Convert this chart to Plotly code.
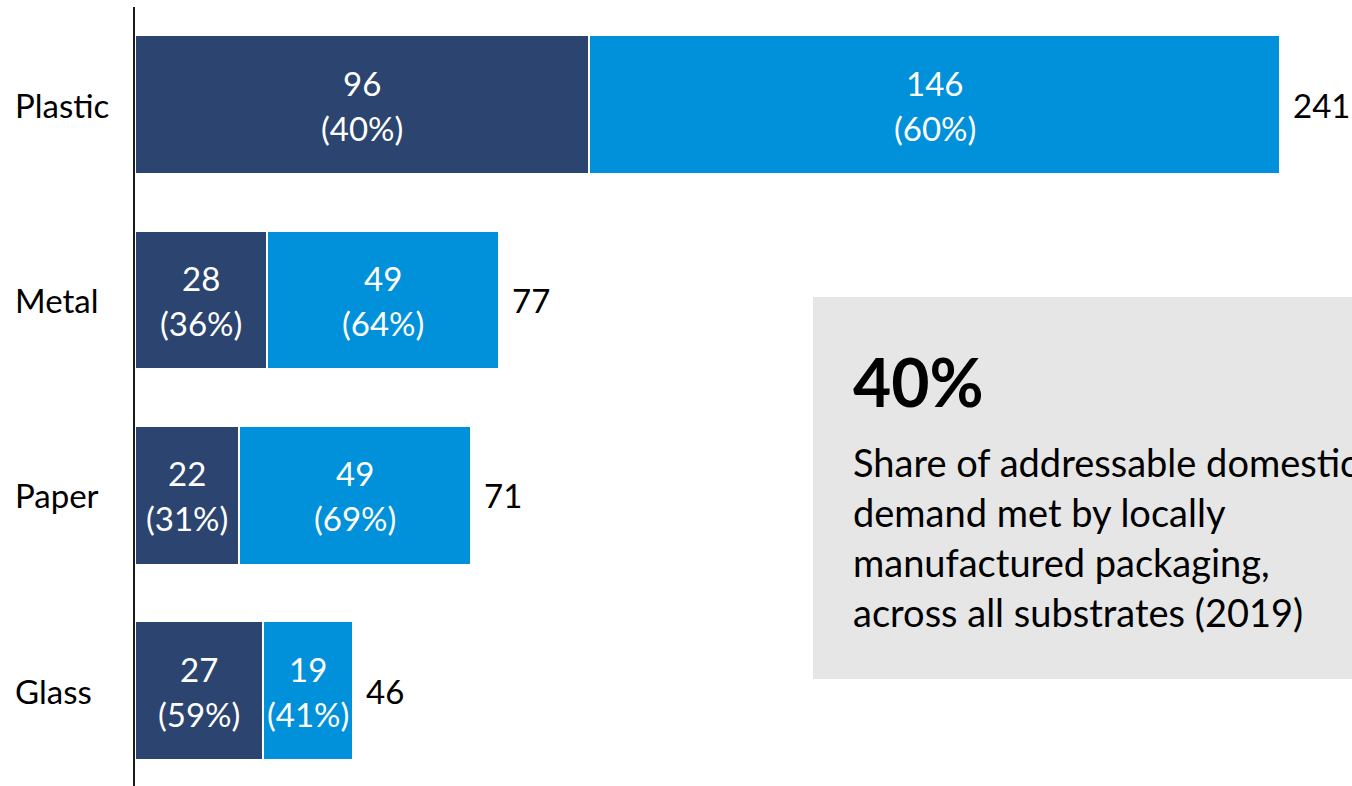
import plotly.graph_objects as go

# Packaging demand by substrate (2019)
substrates = ["Plastic", "Metal", "Paper", "Glass"]
local_values = [96, 28, 22, 27]
local_shares = [40, 36, 31, 59]
import_values = [146, 49, 49, 19]
import_shares = [60, 64, 69, 41]
totals = [241, 77, 71, 46]

headline = "40%"
note_lines = [
    "Share of addressable domestic",
    "demand met by locally",
    "manufactured packaging,",
    "across all substrates (2019)",
]

DARK = "#2c4470"
LIGHT = "#0091da"
BOX = "#e6e6e6"
FONT = "Lato"
LABEL_SIZE = 33
NOTE_SIZE = 38

W, H = 1352, 786
ML, MT, MB, MR = 135, 7, 0, 0
PW, PH = W - ML - MR, H - MT - MB
PX_PER_UNIT = 4.731
BAND = 195.3


def px_x(px):
    return (px - ML) / PW


def px_y(py):
    return (H - MB - py) / PH


fig = go.Figure()
for vals, color in ((local_values, DARK), (import_values, LIGHT)):
    fig.add_trace(go.Bar(
        y=substrates, x=vals, orientation="h",
        marker=dict(color=color, line=dict(color="white", width=2)),
        width=0.71, hoverinfo="skip", showlegend=False,
    ))

ann = []
for i, name in enumerate(substrates):
    # category label, left aligned
    ann.append(dict(x=px_x(13), xref="paper", y=name, yref="y", text=name,
                    xanchor="left", yanchor="middle", showarrow=False,
                    font=dict(family=FONT, size=LABEL_SIZE, color="black")))
    # segment labels
    segs = [(0, local_values[i], local_shares[i]),
            (local_values[i], import_values[i], import_shares[i])]
    for start, v, s in segs:
        mid = start + v / 2
        for txt, dy in ((str(v), 22), (f"({s}%)", -23)):
            ann.append(dict(x=mid, xref="x", y=name, yref="y", text=txt,
                            xanchor="center", yanchor="middle", yshift=dy,
                            showarrow=False,
                            font=dict(family=FONT, size=LABEL_SIZE, color="white")))
    # total label
    ann.append(dict(x=local_values[i] + import_values[i], xref="x", y=name, yref="y",
                    text=str(totals[i]), xanchor="left", yanchor="middle",
                    xshift=11, showarrow=False,
                    font=dict(family=FONT, size=LABEL_SIZE, color="black")))

# callout box text
ann.append(dict(x=px_x(851), xref="paper", y=px_y(381.5), yref="paper",
                text=f"<b>{headline}</b>", xanchor="left", yanchor="middle",
                showarrow=False, font=dict(family=FONT, size=66, color="black")))
for k, line in enumerate(note_lines):
    ann.append(dict(x=px_x(851), xref="paper", y=px_y(461.5 + 50 * k), yref="paper",
                    text=line, xanchor="left", yanchor="middle", showarrow=False,
                    font=dict(family=FONT, size=NOTE_SIZE, color="black")))

fig.update_layout(
    width=W, height=H,
    margin=dict(l=ML, r=MR, t=MT, b=MB, pad=0),
    barmode="stack",
    plot_bgcolor="white", paper_bgcolor="white",
    font=dict(family=FONT),
    xaxis=dict(range=[0, PW / PX_PER_UNIT], visible=False, fixedrange=True),
    yaxis=dict(range=[-0.5 + PH / BAND, -0.5], showticklabels=False,
               showgrid=False, zeroline=False, showline=True,
               linecolor="#1a1a1a", linewidth=2, ticks="", fixedrange=True),
    shapes=[dict(type="rect", xref="paper", yref="paper",
                 x0=px_x(813), x1=px_x(W + 20), y0=px_y(679), y1=px_y(297),
                 fillcolor=BOX, line=dict(width=0), layer="below")],
    annotations=ann,
)

fig.write_html("out.html", config={"displayModeBar": False})
